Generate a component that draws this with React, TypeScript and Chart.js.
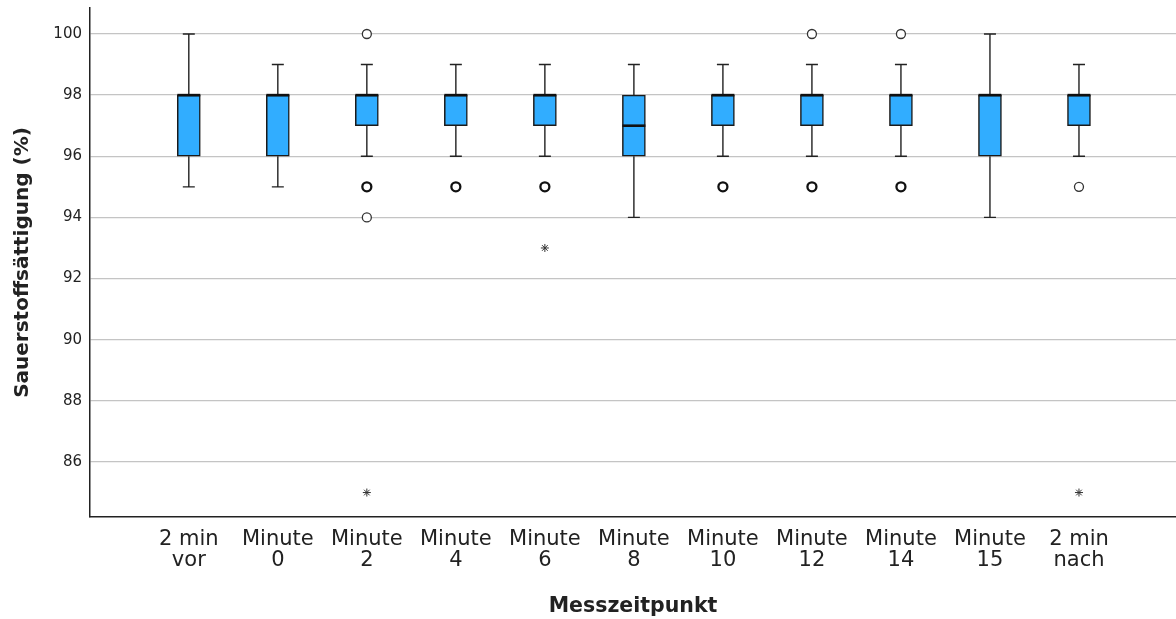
import React, { useEffect, useRef } from "react";
import { Chart, registerables } from "chart.js";

Chart.register(...registerables);

const categories: string[][] = [
  ["2 min", "vor"],
  ["Minute", "0"],
  ["Minute", "2"],
  ["Minute", "4"],
  ["Minute", "6"],
  ["Minute", "8"],
  ["Minute", "10"],
  ["Minute", "12"],
  ["Minute", "14"],
  ["Minute", "15"],
  ["2 min", "nach"],
];

const q1 = [96, 96, 97, 97, 97, 96, 97, 97, 97, 96, 97];
const median = [98, 98, 98, 98, 98, 97, 98, 98, 98, 98, 98];
const q3 = [98, 98, 98, 98, 98, 98, 98, 98, 98, 98, 98];
const whiskerLow = [95, 95, 96, 96, 96, 94, 96, 96, 96, 94, 96];
const whiskerHigh = [100, 99, 99, 99, 99, 99, 99, 99, 99, 100, 99];

// outliers (circles): single and multiple (overlapping -> bolder)
const outlierSingle = [
  { x: 2, y: 100 },
  { x: 2, y: 94 },
  { x: 7, y: 100 },
  { x: 8, y: 100 },
  { x: 10, y: 95 },
];
const outlierMultiple = [
  { x: 2, y: 95 },
  { x: 3, y: 95 },
  { x: 4, y: 95 },
  { x: 6, y: 95 },
  { x: 7, y: 95 },
  { x: 8, y: 95 },
];
// extreme values (stars)
const extremes = [
  { x: 2, y: 85 },
  { x: 4, y: 93 },
  { x: 10, y: 85 },
];

const yTicks = [86, 88, 90, 92, 94, 96, 98, 100];

const FONT = "'DejaVu Sans', sans-serif";

const boxPlugin = {
  id: "boxParts",
  beforeDatasetsDraw(chart: any) {
    const { ctx, scales } = chart;
    const xs = scales.x;
    const ys = scales.y;
    ctx.save();
    ctx.strokeStyle = "#222";
    ctx.lineWidth = 1.4;
    const cap = 6;
    for (let i = 0; i < q1.length; i++) {
      const x = xs.getPixelForValue(i);
      const yLo = ys.getPixelForValue(whiskerLow[i]);
      const yHi = ys.getPixelForValue(whiskerHigh[i]);
      const yQ1 = ys.getPixelForValue(q1[i]);
      const yQ3 = ys.getPixelForValue(q3[i]);
      ctx.beginPath();
      ctx.moveTo(x, yQ1);
      ctx.lineTo(x, yLo);
      ctx.moveTo(x - cap, yLo);
      ctx.lineTo(x + cap, yLo);
      ctx.moveTo(x, yQ3);
      ctx.lineTo(x, yHi);
      ctx.moveTo(x - cap, yHi);
      ctx.lineTo(x + cap, yHi);
      ctx.stroke();
    }
    ctx.restore();
  },
  afterDatasetsDraw(chart: any) {
    const { ctx, scales } = chart;
    const xs = scales.x;
    const ys = scales.y;
    ctx.save();
    ctx.strokeStyle = "#111";
    ctx.lineWidth = 2.6;
    const half = 11.5;
    for (let i = 0; i < median.length; i++) {
      const x = xs.getPixelForValue(i);
      const y = ys.getPixelForValue(median[i]);
      ctx.beginPath();
      ctx.moveTo(x - half, y);
      ctx.lineTo(x + half, y);
      ctx.stroke();
    }
    ctx.restore();
  },
};

export default function App() {
  const ref = useRef<HTMLCanvasElement | null>(null);

  useEffect(() => {
    if (!ref.current) return;
    const chart = new Chart(ref.current, {
      type: "bar",
      data: {
        datasets: [
          {
            type: "scatter",
            label: "Ausreißer",
            data: outlierSingle,
            pointStyle: "circle",
            pointRadius: 4.5,
            pointBackgroundColor: "#ffffff",
            pointBorderColor: "#333",
            pointBorderWidth: 1.3,
            order: 0,
          } as any,
          {
            type: "scatter",
            label: "Ausreißer (mehrfach)",
            data: outlierMultiple,
            pointStyle: "circle",
            pointRadius: 4.5,
            pointBackgroundColor: "#ffffff",
            pointBorderColor: "#111",
            pointBorderWidth: 2.3,
            order: 0,
          } as any,
          {
            type: "scatter",
            label: "Extremwerte",
            data: extremes,
            pointStyle: "star",
            pointRadius: 4,
            pointBackgroundColor: "#333",
            pointBorderColor: "#333",
            pointBorderWidth: 1,
            order: 0,
          } as any,
          {
            type: "bar",
            label: "Box",
            data: q1.map((v, i) => ({ x: i, y: [v, q3[i]] })),
            backgroundColor: "#31adff",
            borderColor: "#1a1a1a",
            borderWidth: 1.5,
            borderSkipped: false,
            barThickness: 23,
            order: 1,
          } as any,
        ],
      },
      options: {
        animation: false,
        responsive: false,
        maintainAspectRatio: false,
        devicePixelRatio: 1,
        layout: { autoPadding: false, padding: { top: 8, right: 0, left: 0, bottom: 0 } },
        plugins: {
          legend: { display: false },
          tooltip: { enabled: false },
        },
        scales: {
          x: {
            type: "linear",
            offset: false,
            min: -1.11,
            max: 11.09,
            afterBuildTicks: (scale: any) => {
              scale.ticks = categories.map((_, i) => ({ value: i }));
            },
            afterFit: (scale: any) => {
              scale.height = 102;
              scale.paddingLeft = 0;
              scale.paddingRight = 0;
            },
            grid: { display: false, drawTicks: false },
            border: { display: true, color: "#222", width: 1.5 },
            ticks: {
              autoSkip: false,
              maxRotation: 0,
              padding: 12,
              color: "#222",
              font: { family: FONT, size: 21, lineHeight: 1.0 },
              callback: (v: any) => categories[Number(v)] ?? "",
            },
            title: {
              display: true,
              text: "Messzeitpunkt",
              color: "#222",
              font: { family: FONT, size: 20.5, weight: "bold", lineHeight: 1.2 },
              padding: { top: 0, bottom: 0 },
            },
          },
          y: {
            type: "linear",
            min: 84.2,
            max: 100.85,
            afterBuildTicks: (scale: any) => {
              scale.ticks = yTicks.map((v) => ({ value: v }));
            },
            afterFit: (scale: any) => {
              scale.width = 90;
              scale.paddingTop = 0;
              scale.paddingBottom = 0;
            },
            grid: { color: "#c4c4c4", lineWidth: 1.3, drawTicks: false },
            border: { display: true, color: "#222", width: 1.5 },
            ticks: {
              padding: 8,
              color: "#222",
              font: { family: FONT, size: 15 },
            },
            title: {
              display: true,
              text: "Sauerstoffsättigung (%)",
              color: "#222",
              font: { family: FONT, size: 20, weight: "bold", lineHeight: 1.2 },
              padding: { top: 11, bottom: 0 },
            },
          },
        },
      } as any,
      plugins: [boxPlugin],
    });
    return () => chart.destroy();
  }, []);

  return (
    <div
      style={{
        position: "fixed",
        left: 0,
        top: 0,
        width: 1176,
        height: 619,
        background: "#fff",
      }}
    >
      <canvas ref={ref} width={1176} height={619} style={{ display: "block" }} />
    </div>
  );
}
